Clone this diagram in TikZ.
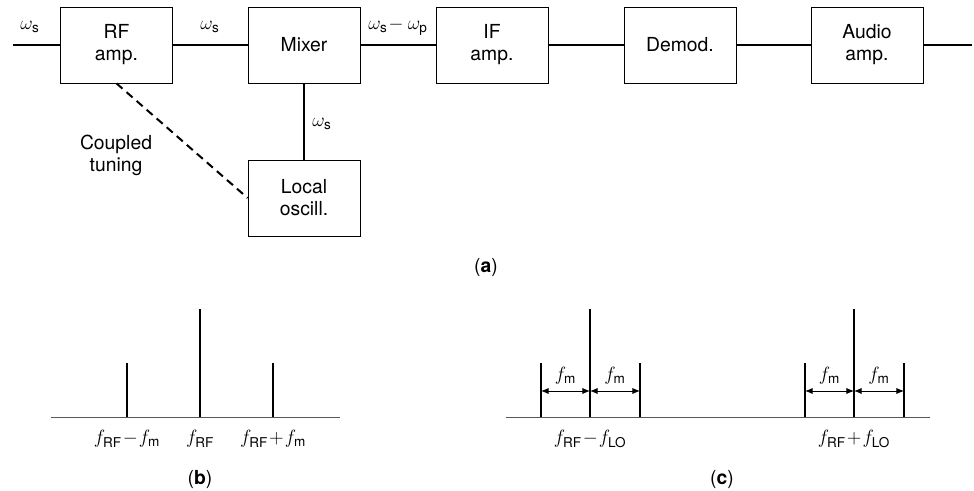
\documentclass[tikz,border=0pt]{standalone}
\usepackage{amsmath}
\usepackage{fontspec}
\setmainfont{TeX Gyre Heros}
\usetikzlibrary{arrows.meta}
\newcommand{\up}[1]{\text{#1}}

\begin{document}
\begin{tikzpicture}[x=0.75pt,y=-0.75pt,line width=1.5pt,>={Latex[length=2mm,width=1.6mm]},
  font=\fontsize{14.5}{16.5}\selectfont,
  blk/.style={draw,line width=0.6pt,minimum width=84pt,minimum height=57pt,align=center,inner sep=1pt},
  axis/.style={line width=0.7pt,black!65}]
  \useasboundingbox (0,0) rectangle (974,491);
  % (a) superhet receiver
  \node[blk] (rfamp) at (116.5,45) {RF\\amp.};
  \node[blk] (mixer) at (304,45) {Mixer};
  \node[blk] (ifamp) at (492,45) {IF\\amp.};
  \node[blk] (demod) at (680,45) {Demod.};
  \node[blk] (audioamp) at (867,45) {Audio\\amp.};
  \node[blk] (localosc) at (304,198) {Local\\oscill.};
  \coordinate (in) at (13,45);
  \coordinate (out) at (972,45);
  \draw (in)--(rfamp);
  \draw (rfamp)--(mixer);
  \draw (mixer)--(ifamp);
  \draw (ifamp)--(demod);
  \draw (demod)--(audioamp);
  \draw (audioamp)--(out);
  \draw (mixer)--(localosc);
  \draw[dashed,dash pattern=on 6pt off 4pt] (rfamp.south)--(localosc.west);
  \node at (30,27) {$\omega_{\up{s}}$};
  \node at (210,27) {$\omega_{\up{s}}$};
  \node at (398,27) {$\omega_{\up{s}}\!-\omega_{\up{p}}$};
  \node at (322,124) {$\omega_{\up{s}}$};
  \node[align=center] at (116,155) {Coupled\\tuning};
  \node at (486,268) {(\textbf{a})};
  % (b) spectrum at RF
  \draw[axis] (51,417)--(340,417);
  \draw (127,417)--(127,363);
  \draw (200,417)--(200,309);
  \draw (273,417)--(273,363);
  \node at (127,439) {$f_{\up{RF}}\!-\!f_{\up{m}}$};
  \node at (200,439) {$f_{\up{RF}}$};
  \node at (273,439) {$f_{\up{RF}}\!+\!f_{\up{m}}$};
  \node at (200,480) {(\textbf{b})};
  % (c) spectrum after mixing
  \draw[axis] (506,417)--(930,417);
  \foreach \c in {590,854}{
    \draw (\c,417)--(\c,309);
    \draw (\c-49,417)--(\c-49,363);
    \draw (\c+50,417)--(\c+50,363);
    \draw[<->,line width=0.6pt] (\c-49,391)--(\c,391);
    \draw[<->,line width=0.6pt] (\c,391)--(\c+50,391);
    \node at (\c-24.5,376) {$f_{\up{m}}$};
    \node at (\c+25,376) {$f_{\up{m}}$};
  }
  \node at (590,439) {$f_{\up{RF}}\!-\!f_{\up{LO}}$};
  \node at (854,439) {$f_{\up{RF}}\!+\!f_{\up{LO}}$};
  \node at (722,480) {(\textbf{c})};
\end{tikzpicture}
\end{document}
